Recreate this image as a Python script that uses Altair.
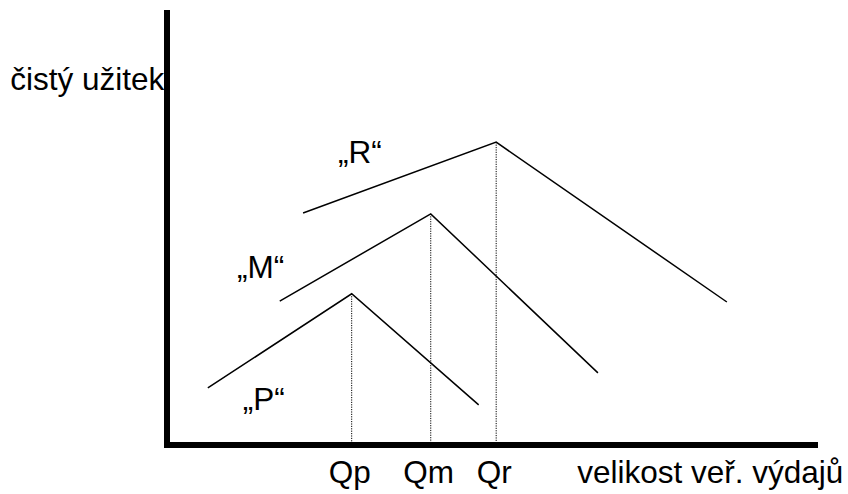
import altair as alt
import pandas as pd

# Net-benefit curves: start, peak, end points for each type ("P", "M", "R")
curve_names = ["P", "M", "R"]
curve_x = {"P": [6.3, 28.5, 48.1], "M": [17.4, 40.7, 66.5], "R": [21.0, 50.8, 86.4]}
curve_y = {"P": [13.2, 35.0, 9.3], "M": [33.3, 53.5, 16.7], "R": [53.7, 70.1, 33.1]}

# Optimal spending levels (peaks) and their labels
q_labels = ["Qp", "Qm", "Qr"]
q_values = [28.5, 40.7, 50.8]
q_peaks = [35.0, 53.5, 70.1]

# Curve name labels
name_text = ["„R“", "„M“", "„P“"]
name_x = [26.4, 10.8, 11.7]
name_y = [65.3, 38.7, 8.1]

axis_y_title = "čistý užitek"
axis_x_title = "velikost veř. výdajů"

FONT = "Liberation Sans"
FS = 31.5

rows = []
for n in curve_names:
    for i, (xv, yv) in enumerate(zip(curve_x[n], curve_y[n])):
        rows.append({"curve": n, "order": i, "x": xv, "y": yv})
curves_df = pd.DataFrame(rows)

xs = alt.Scale(domain=[0, 100], nice=False, zero=False)
ys = alt.Scale(domain=[0, 100], nice=False, zero=False)

curves = alt.Chart(curves_df).mark_line(color="black", strokeWidth=1.5).encode(
    x=alt.X("x:Q", scale=xs, axis=None),
    y=alt.Y("y:Q", scale=ys, axis=None),
    detail="curve:N",
    order="order:Q",
)

drops_df = pd.DataFrame({"q": q_values, "top": q_peaks, "bottom": [0] * 3})
drops = alt.Chart(drops_df).mark_rule(color="black", strokeWidth=1, strokeDash=[1.2, 1.2]).encode(
    x=alt.X("q:Q", scale=xs, axis=None),
    y=alt.Y("top:Q", scale=ys, axis=None),
    y2="bottom:Q",
)

# Thick main axes
axes_df = pd.DataFrame({"x": [0, 0], "y": [0, 0], "x2": [0, 100], "y2": [100, 0]})
axes = alt.Chart(axes_df).mark_rule(color="black", strokeWidth=6, strokeCap="square").encode(
    x=alt.X("x:Q", scale=xs, axis=None),
    y=alt.Y("y:Q", scale=ys, axis=None),
    x2="x2:Q",
    y2="y2:Q",
)

names_df = pd.DataFrame({"t": name_text, "x": name_x, "y": name_y})
names = alt.Chart(names_df).mark_text(
    font=FONT, fontSize=FS, align="left", baseline="alphabetic", color="black"
).encode(
    x=alt.X("x:Q", scale=xs, axis=None),
    y=alt.Y("y:Q", scale=ys, axis=None),
    text="t:N",
)

q_df = pd.DataFrame({"t": q_labels, "x": q_values, "y": [-8.8] * 3})
q_text = alt.Chart(q_df).mark_text(
    font=FONT, fontSize=FS, align="center", baseline="alphabetic", color="black", dx=-2
).encode(
    x=alt.X("x:Q", scale=xs, axis=None),
    y=alt.Y("y:Q", scale=ys, axis=None),
    text="t:N",
)

titles_df = pd.DataFrame({"t": [axis_y_title, axis_x_title], "x": [-24.2, 63.3], "y": [82.2, -8.8]})
titles = alt.Chart(titles_df).mark_text(
    font=FONT, fontSize=FS, align="left", baseline="alphabetic", color="black"
).encode(
    x=alt.X("x:Q", scale=xs, axis=None),
    y=alt.Y("y:Q", scale=ys, axis=None),
    text="t:N",
)

chart = alt.layer(drops, curves, axes, names, q_text, titles).properties(
    width=648,
    height=432,
    autosize=alt.AutoSizeParams(type="none"),
    padding={"left": 167, "top": 13, "right": 33, "bottom": 49},
    background="white",
).configure_view(stroke=None)

chart.save("out.html", embed_options={"renderer": "svg", "actions": False})
